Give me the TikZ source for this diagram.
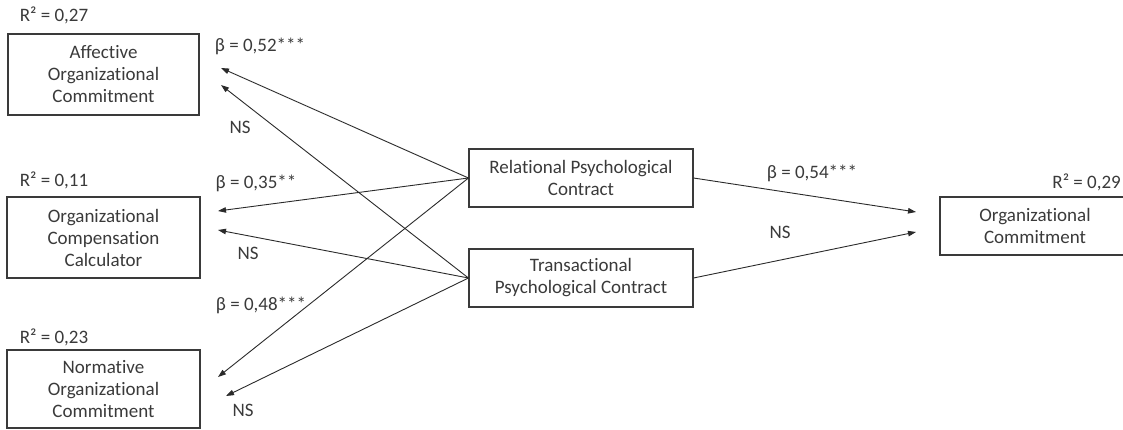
\documentclass[tikz,border=0pt]{standalone}
\usepackage{fontspec}
\setmainfont{Carlito}[Ligatures={NoCommon}]
\usetikzlibrary{arrows.meta}
\definecolor{ink}{HTML}{3A3A3A}
\definecolor{linecol}{HTML}{2A2A2A}
\tikzset{
  box/.style={draw=ink, line width=1.1pt, align=center, inner sep=0pt, text=ink,
    font=\fontsize{19}{22}\selectfont},
  lbl/.style={text=ink, inner sep=0pt, font=\fontsize{19}{22}\selectfont},
  path/.style={draw=linecol, line width=0.9pt, -{Triangle[length=8pt,width=5.5pt]}},
}
\begin{document}
\begin{tikzpicture}[x=1pt,y=-1pt]
\useasboundingbox (0,0) rectangle (1123,430);
% boxes
\node[box, minimum width=191pt, minimum height=81pt] (aff) at (103.5,74.5) {Affective\\Organizational\\Commitment};
\node[box, minimum width=193pt, minimum height=81pt] (comp) at (103.5,237.5) {Organizational\\Compensation\\Calculator};
\node[box, minimum width=193pt, minimum height=78pt] (norm) at (103.5,389) {Normative\\Organizational\\Commitment};
\node[box, minimum width=224pt, minimum height=58pt] (rel) at (581,178) {Relational Psychological\\Contract};
\node[box, minimum width=224pt, minimum height=58pt] (tra) at (581,278) {Transactional\\Psychological Contract};
\node[box, minimum width=190pt, minimum height=58pt] (oc) at (1035,226) {Organizational\\Commitment};
% free ends
\coordinate (aA) at (221,68);
\coordinate (aB) at (221,85);
\coordinate (cA) at (218,211);
\coordinate (cB) at (218,230);
\coordinate (nA) at (218,377);
\coordinate (nB) at (226,396);
\coordinate (oA) at (916,212);
\coordinate (oB) at (916,232);
% connectors
\draw[path] (rel.west) -- (aA);
\draw[path] (tra.west) -- (aB);
\draw[path] (rel.west) -- (cA);
\draw[path] (tra.west) -- (cB);
\draw[path] (rel.west) -- (nA);
\draw[path] (tra.west) -- (nB);
\draw[path] (rel.east) -- (oA);
\draw[path] (tra.east) -- (oB);
% labels
\node[lbl] (r1) at (54,15) {R² = 0,27};
\node[lbl] (r2) at (54,180) {R² = 0,11};
\node[lbl] (r3) at (54,337) {R² = 0,23};
\node[lbl, anchor=east] (r4) at (1121,182) {R² = 0,29};
\node[lbl] (b1) at (260,46) {β = 0,52***};
\node[lbl] (b2) at (256,183) {β = 0,35**};
\node[lbl] (b3) at (261,305) {β = 0,48***};
\node[lbl] (b4) at (812,173) {β = 0,54***};
\node[lbl] (n1) at (240,127) {NS};
\node[lbl] (n2) at (248,253) {NS};
\node[lbl] (n3) at (243,410) {NS};
\node[lbl] (n4) at (780,232) {NS};
\end{tikzpicture}
\end{document}
